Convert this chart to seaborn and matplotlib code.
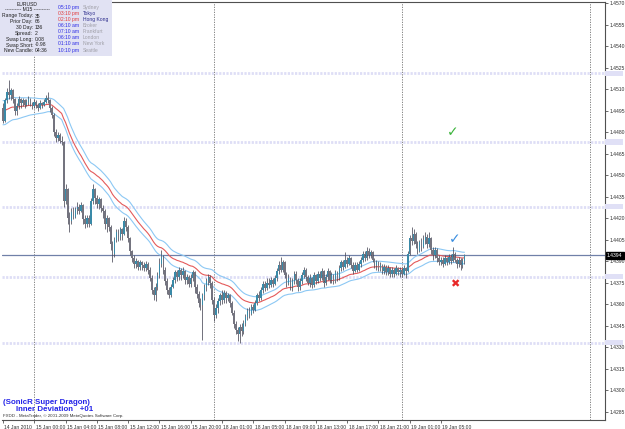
import numpy as np
import pandas as pd
import matplotlib
matplotlib.use("Agg")
import matplotlib.pyplot as plt
import matplotlib.patches as mpatches
import matplotlib.transforms as mtrans
import seaborn as sns

# EURUSD M15, prices in pips above 1.4000 (4505 -> 1.4505)
first_open = 4497
closes = [
    4488, 4502, 4508, 4506, 4509, 4503, 4495, 4498, 4503, 4500,
    4502, 4499, 4501, 4503, 4500, 4498, 4501, 4499, 4497, 4500,
    4499, 4501, 4504, 4502, 4497, 4492, 4480, 4476, 4478, 4474,
    4473, 4432, 4440, 4420, 4418, 4424, 4421, 4426, 4428, 4425,
    4429, 4419, 4416, 4420, 4416, 4432, 4440, 4434, 4430, 4433,
    4427, 4425, 4416, 4420, 4414, 4402, 4395, 4405, 4410, 4407,
    4412, 4409, 4418, 4414, 4406, 4397, 4392, 4388, 4390, 4386,
    4389, 4387, 4385, 4388, 4384, 4378, 4370, 4366, 4372, 4380,
    4388, 4393, 4384, 4376, 4370, 4366, 4372, 4377, 4382, 4379,
    4384, 4380, 4383, 4377, 4379, 4374, 4378, 4382, 4372, 4367,
    4361, 4359, 4366, 4372, 4376, 4379, 4375, 4363, 4352, 4357,
    4362, 4366, 4363, 4368, 4364, 4366, 4361, 4354, 4346, 4342,
    4339, 4344, 4341, 4347, 4351, 4355, 4353, 4358, 4356, 4361,
    4366, 4364, 4370, 4374, 4371, 4375, 4373, 4377, 4374, 4378,
    4383, 4387, 4384, 4389, 4380, 4375, 4378, 4372, 4376, 4381,
    4377, 4372, 4376, 4380, 4384, 4379, 4375, 4378, 4373, 4380,
    4376, 4381, 4378, 4383, 4375, 4379, 4383, 4377, 4380, 4376,
    4382, 4378, 4385, 4389, 4386, 4391, 4388, 4392, 4387, 4383,
    4387, 4384, 4388, 4391, 4395, 4392, 4397, 4394, 4396, 4391,
    4387, 4389, 4385, 4387, 4383, 4386, 4382, 4385, 4381, 4384,
    4381, 4385, 4382, 4384, 4381, 4385, 4383, 4395, 4406, 4404,
    4409, 4402, 4397, 4403, 4400, 4405, 4407, 4402, 4406, 4398,
    4394, 4398, 4392, 4389, 4391, 4388, 4392, 4389, 4393, 4390,
    4395, 4391, 4388, 4391, 4387, 4390, 4394,
]
highs = [
    4500, 4504, 4511, 4516, 4511, 4510, 4504, 4500, 4505, 4504,
    4504, 4503, 4503, 4505, 4504, 4501, 4503, 4502, 4500, 4502,
    4501, 4503, 4506, 4508, 4503, 4498, 4493, 4482, 4480, 4479,
    4477, 4474, 4444, 4441, 4424, 4427, 4428, 4428, 4431, 4430,
    4431, 4430, 4422, 4422, 4422, 4434, 4444, 4441, 4436, 4435,
    4434, 4429, 4426, 4422, 4421, 4415, 4404, 4407, 4412, 4412,
    4414, 4413, 4421, 4420, 4415, 4407, 4398, 4394, 4392, 4391,
    4391, 4390, 4389, 4390, 4389, 4386, 4380, 4372, 4375, 4382,
    4392, 4398, 4394, 4386, 4378, 4372, 4374, 4379, 4384, 4384,
    4386, 4385, 4386, 4384, 4381, 4380, 4381, 4384, 4383, 4374,
    4369, 4364, 4368, 4374, 4378, 4381, 4380, 4376, 4365, 4360,
    4364, 4368, 4370, 4370, 4369, 4368, 4367, 4362, 4356, 4348,
    4344, 4346, 4347, 4349, 4353, 4357, 4358, 4360, 4360, 4363,
    4368, 4369, 4372, 4376, 4376, 4378, 4378, 4379, 4378, 4380,
    4385, 4390, 4393, 4391, 4390, 4382, 4381, 4379, 4378, 4383,
    4383, 4378, 4378, 4382, 4386, 4385, 4380, 4381, 4379, 4382,
    4381, 4383, 4383, 4385, 4384, 4381, 4385, 4384, 4382, 4381,
    4384, 4383, 4387, 4391, 4391, 4396, 4393, 4394, 4393, 4389,
    4389, 4389, 4390, 4393, 4397, 4397, 4400, 4399, 4398, 4397,
    4392, 4391, 4390, 4389, 4388, 4388, 4387, 4387, 4386, 4386,
    4385, 4387, 4386, 4386, 4385, 4387, 4386, 4397, 4408, 4414,
    4412, 4410, 4404, 4405, 4406, 4408, 4410, 4409, 4410, 4407,
    4400, 4400, 4399, 4394, 4393, 4393, 4394, 4393, 4395, 4395,
    4400, 4396, 4392, 4393, 4392, 4392, 4395,
]
lows = [
    4486, 4487, 4500, 4503, 4502, 4500, 4492, 4492, 4496, 4497,
    4498, 4497, 4498, 4499, 4498, 4496, 4497, 4497, 4495, 4496,
    4497, 4498, 4500, 4500, 4494, 4490, 4477, 4473, 4474, 4472,
    4471, 4428, 4430, 4416, 4410, 4416, 4419, 4420, 4423, 4423,
    4424, 4416, 4413, 4414, 4414, 4415, 4430, 4430, 4427, 4426,
    4424, 4420, 4412, 4410, 4411, 4398, 4389, 4393, 4403, 4404,
    4405, 4405, 4408, 4411, 4403, 4394, 4389, 4385, 4385, 4384,
    4384, 4384, 4383, 4383, 4381, 4376, 4367, 4363, 4362, 4370,
    4378, 4386, 4381, 4373, 4367, 4364, 4365, 4371, 4375, 4376,
    4377, 4377, 4378, 4374, 4374, 4372, 4372, 4376, 4368, 4364,
    4358, 4356, 4335, 4363, 4369, 4373, 4371, 4360, 4348, 4350,
    4354, 4359, 4360, 4361, 4361, 4362, 4358, 4352, 4343, 4339,
    4334, 4333, 4338, 4339, 4345, 4349, 4350, 4352, 4354, 4355,
    4359, 4362, 4363, 4368, 4369, 4370, 4371, 4372, 4372, 4373,
    4376, 4381, 4382, 4382, 4378, 4372, 4373, 4370, 4369, 4374,
    4374, 4369, 4370, 4374, 4378, 4376, 4373, 4372, 4371, 4372,
    4374, 4375, 4376, 4377, 4372, 4373, 4377, 4375, 4375, 4374,
    4375, 4376, 4377, 4383, 4384, 4385, 4386, 4387, 4385, 4381,
    4382, 4382, 4383, 4386, 4389, 4390, 4391, 4392, 4392, 4389,
    4385, 4384, 4383, 4383, 4381, 4381, 4380, 4380, 4379, 4379,
    4379, 4380, 4380, 4379, 4379, 4380, 4378, 4382, 4394, 4401,
    4402, 4399, 4395, 4396, 4397, 4399, 4402, 4399, 4400, 4395,
    4391, 4392, 4389, 4387, 4387, 4386, 4387, 4387, 4388, 4388,
    4389, 4389, 4385, 4386, 4384, 4385, 4388,
]

# dragon (EMA 34 of high / close / low) values at the left edge
seed_high, seed_close, seed_low = 4502, 4495, 4485

xtick_labels = ["14 Jan 2010", "15 Jan 00:00", "15 Jan 04:00", "15 Jan 08:00",
                "15 Jan 12:00", "15 Jan 16:00", "15 Jan 20:00", "18 Jan 01:00",
                "18 Jan 05:00", "18 Jan 09:00", "18 Jan 13:00", "18 Jan 17:00",
                "18 Jan 21:00", "19 Jan 01:00", "19 Jan 05:00"]
day_breaks = [16, 108, 204, 300]
levels = [4521, 4473, 4428, 4379, 4333]
bid = 4394

# green / blue tick, red cross
signal_bar = [230, 231, 231]
signal_pips = [4480, 4405, 4374]

panel_left = [("Range Today:", "35"), ("Prior Day:", "66"), ("30 Day:", "136"),
              ("Spread:", "2"), ("Swap Long:", "0.08"), ("Swap Short:", "-0.98"),
              ("New Candle:", "04:36")]
panel_times = ["05:10 pm", "03:10 pm", "02:10 pm", "06:10 am",
               "07:10 am", "06:10 am", "01:10 am", "10:10 pm"]
panel_cities = ["Sydney", "Tokyo", "Hong Kong", "Broker",
                "Frankfurt", "London", "New York", "Seattle"]


def px(v):
    return 1 + np.asarray(v, dtype=float) / 10000.0


df = pd.DataFrame({"close": px(closes), "high": px(highs), "low": px(lows)})
df["bar"] = np.arange(len(df))
df["open"] = df["close"].shift(1).fillna(px(first_open))


def ema(series, seed):
    s = pd.concat([pd.Series([px(seed)]), series], ignore_index=True)
    return s.ewm(span=34, adjust=False).mean().iloc[1:].to_numpy()


df["ema_h"] = ema(df["high"], seed_high)
df["ema_c"] = ema(df["close"], seed_close)
df["ema_l"] = ema(df["low"], seed_low)

sns.set_style("white")
plt.rcParams["font.family"] = ["Liberation Sans", "DejaVu Sans"]

W, H = 625, 429
fig = plt.figure(figsize=(W / 100, H / 100), dpi=100)
ax = fig.add_axes([2 / W, 1 - 420 / H, 603 / W, 418 / H])

# level lines and day separators
for lv in levels:
    ax.axhline(px(lv), color="#dedef6", lw=2.0, ls=(0, (0.8, 0.5)), zorder=1)
for d in day_breaks:
    ax.axvline(d, color="#707070", lw=0.6, ls=(0, (1.5, 1.5)), zorder=1)
ax.axhline(px(bid), color="#7080a8", lw=0.9, zorder=1)

# candles
up = df["close"] > df["open"]
ax.vlines(df["bar"], df["low"], df["high"], color="#4a4a58", lw=0.55, zorder=3)
body_lo = np.minimum(df["open"], df["close"])
body_h = np.maximum((df["close"] - df["open"]).abs(), 0.00003)
ax.bar(df["bar"], body_h, bottom=body_lo, width=0.8,
       color=np.where(up, "#3a8aa8", "#74747f"), linewidth=0, zorder=4)

# dragon
sns.lineplot(data=df, x="bar", y="ema_h", color="#8cc8f4", lw=0.8, ax=ax, zorder=2)
sns.lineplot(data=df, x="bar", y="ema_l", color="#8cc8f4", lw=0.8, ax=ax, zorder=2)
sns.lineplot(data=df, x="bar", y="ema_c", color="#e45a5a", lw=0.8, ax=ax, zorder=2)

for b, p, ch, col in zip(signal_bar, signal_pips, ["\u2713", "\u2713", "\u2716"],
                         ["#3cb43c", "#3a8ee0", "#e82828"]):
    ax.text(b, px(p), ch, color=col, fontsize=8 if ch == "\u2716" else 10,
            ha="center", va="center", family="DejaVu Sans",
            fontweight="bold", zorder=6)

ax.set_xlim(-0.51, 307.9)
ax.set_ylim(px(4279.1), px(4570.7))
ax.set_xlabel("")
ax.set_ylabel("")

yt = np.round(np.arange(1.4285, 1.45701, 0.0015), 4)
ax.yaxis.tick_right()
ax.set_yticks(yt)
ax.set_yticklabels([f"{v:.4f}" for v in yt])
ax.set_xticks(np.arange(len(xtick_labels)) * 16)
ax.set_xticklabels(xtick_labels, ha="left")
ax.tick_params(axis="y", right=True, length=2.5, width=0.5, pad=1,
               labelsize=3.6, colors="#303030", direction="out")
ax.tick_params(axis="x", bottom=True, length=2.5, width=0.5, pad=1,
               labelsize=3.6, colors="#303030", direction="out")
for lab in ax.get_xticklabels():
    lab.set_transform(lab.get_transform() + mtrans.ScaledTranslation(1.5 / 100, 0, fig.dpi_scale_trans))

for side in ["top", "right", "bottom"]:
    ax.spines[side].set_color("#505050")
    ax.spines[side].set_linewidth(0.8)
ax.spines["left"].set_visible(False)

# level markers on the price scale
blend = mtrans.blended_transform_factory(ax.transAxes, ax.transData)
for lv in levels:
    ax.add_patch(mpatches.Rectangle((1.0, px(lv) - 0.00018), 18 / 603, 0.00036,
                                    transform=blend, clip_on=False,
                                    facecolor="#e0e0f6", edgecolor="none", zorder=5))
ax.text(1.003, px(bid), f"{px(bid):.4f}", transform=blend, fontsize=3.6,
        color="white", va="center", ha="left", clip_on=False, zorder=7,
        bbox=dict(boxstyle="square,pad=0.25", facecolor="black", edgecolor="black"))


def fpos(x, y):
    return x / W, 1 - y / H


# info panel
fig.add_artist(mpatches.Rectangle(fpos(0, 56), 112 / W, 56 / H, transform=fig.transFigure,
                                  facecolor="#e1e2f3", edgecolor="none", zorder=5))
fs = 3.6
fig.text(*fpos(27, 4), "EURUSD", fontsize=fs, ha="center", va="center", color="#202020", zorder=6)
fig.text(*fpos(27, 9.8), "---------- M15 ----------", fontsize=fs, ha="center", va="center",
         color="#202020", zorder=6)
for k, (lab, val) in enumerate(panel_left):
    y = 16 + 5.8 * k
    fig.text(*fpos(33, y), lab, fontsize=fs, ha="right", va="center", color="#202020", zorder=6)
    fig.text(*fpos(35, y), val, fontsize=fs, ha="left", va="center", color="#202020", zorder=6)
time_cols = ["#2a2ae6", "#e23838", "#e23838", "#2a2ae6", "#2a2ae6", "#2a2ae6", "#2a2ae6", "#2a2ae6"]
city_cols = ["#a0a0a8", "#2c2c8c", "#2c2c8c", "#a0a0a8", "#a0a0a8", "#a0a0a8", "#a0a0a8", "#a0a0a8"]
for k, (t, c) in enumerate(zip(panel_times, panel_cities)):
    y = 7 + 6.15 * k
    fig.text(*fpos(58, y), t, fontsize=fs, ha="left", va="center", color=time_cols[k], zorder=6)
    fig.text(*fpos(83, y), c, fontsize=fs, ha="left", va="center", color=city_cols[k], zorder=6)

# bottom-left captions
fig.text(*fpos(3, 402), "(SonicR Super Dragon)", fontsize=5.7, fontweight="bold",
         color="#2424e8", ha="left", va="center", zorder=6)
fig.text(*fpos(16, 409.5), "Inner Deviation   +01", fontsize=5.7, fontweight="bold",
         color="#2424e8", ha="left", va="center", zorder=6)
fig.text(*fpos(3, 416), "FXDD - MetaTrader, \u00a9 2001-2009 MetaQuotes Software Corp.",
         fontsize=3.2, color="#303030", ha="left", va="center", zorder=6)

fig.savefig("out.png", dpi=100, facecolor="white")
